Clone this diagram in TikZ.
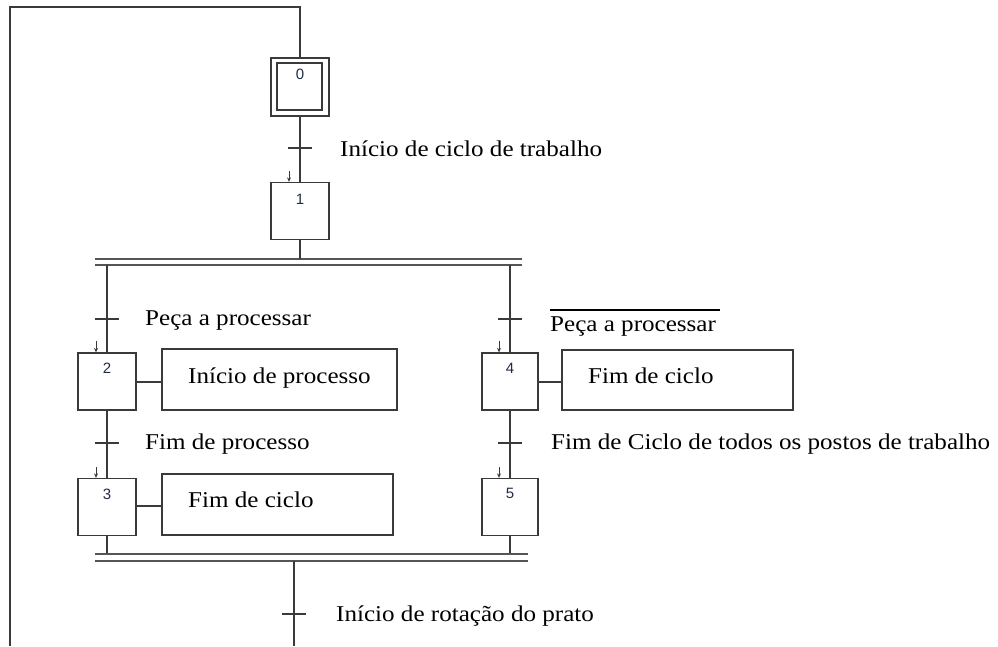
\documentclass[tikz,border=0pt]{standalone}
\usepackage{fontspec}
\setmainfont[FakeStretch=1.11]{Liberation Serif}
\newfontfamily\stepfont{Liberation Sans}
\usetikzlibrary{arrows.meta}
\definecolor{linec}{HTML}{3A3A3A}
\definecolor{barc}{HTML}{555555}
\definecolor{numc}{HTML}{1F2A44}
\begin{document}
\begin{tikzpicture}[x=1pt,y=-1pt,
  ln/.style={draw=linec,line width=1.2pt},
  stepbox/.style={draw=linec,line width=1.3pt,inner sep=0pt,minimum width=58pt,minimum height=57pt},
  actbox/.style={draw=linec,line width=1.1pt,inner sep=0pt,minimum height=61pt},
  num/.style={font=\stepfont\fontsize{15}{15}\selectfont,text=numc,inner sep=0pt},
  lbl/.style={font=\fontsize{22.6}{26}\selectfont,inner sep=0pt,anchor=base west},
  tick/.style={draw=linec,line width=1.2pt},
  bar/.style={draw=barc,line width=1.6pt},
  entry/.style={draw=linec,line width=1pt,-{Stealth[length=4.5pt,width=4pt]}}]
\useasboundingbox (0,0) rectangle (998,646);

% steps
\node[stepbox,minimum height=58pt] (s0) at (300,87) {};
\node[draw=linec,line width=1.2pt,inner sep=0pt,minimum width=45pt,minimum height=47pt] (s0i) at (299.5,86.5) {};
\node[stepbox] (s1) at (300,211) {};
\node[stepbox] (s2) at (107,381.5) {};
\node[stepbox] (s3) at (107,507) {};
\node[stepbox,minimum width=56pt] (s4) at (510,381.5) {};
\node[stepbox,minimum width=56pt] (s5) at (510,507) {};

\node[num] (n0) at ([yshift=-17pt]s0.north) {0};
\node[num] (n1) at ([yshift=-17pt]s1.north) {1};
\node[num] (n2) at ([yshift=-16pt]s2.north) {2};
\node[num] (n3) at ([yshift=-16pt]s3.north) {3};
\node[num] (n4) at ([yshift=-16pt]s4.north) {4};
\node[num] (n5) at ([yshift=-16pt]s5.north) {5};

% actions
\node[actbox,minimum width=235pt] (a2) at (279.5,379.5) {};
\node[actbox,minimum width=231pt] (a3) at (277.5,504.5) {};
\node[actbox,minimum width=231pt,minimum height=60pt] (a4) at (677.5,380) {};
\node[lbl] (ta2) at (188,383) {Início de processo};
\node[lbl] (ta3) at (188,507) {Fim de ciclo};
\node[lbl] (ta4) at (588,383) {Fim de ciclo};
\draw[ln] (s2.east |- 0,382) -- (a2.west |- 0,382);
\draw[ln] (s3.east |- 0,506) -- (a3.west |- 0,506);
\draw[ln] (s4.east |- 0,382) -- (a4.west |- 0,382);

% coordinates
\coordinate (loopB) at (10,646);
\coordinate (loopT) at (10,7);
\coordinate (pa) at (95,259);
\coordinate (pb) at (522,259);
\coordinate (pc) at (95,265);
\coordinate (pd) at (522,265);
\coordinate (qa) at (95,554);
\coordinate (qb) at (528,554);
\coordinate (qc) at (95,561);
\coordinate (qd) at (528,561);
\coordinate (outB) at (294,646);
\coordinate (outT) at (294,561);

% links
\draw[ln] (loopB) -- (loopT) -| (s0.north);
\draw[ln] (s0.south) -- (s1.north);
\draw[bar] (pa) -- (pb);
\draw[bar] (pc) -- (pd);
\draw[ln] (s1.south) -- (s1.south |- pa);
\draw[ln] (s2.north |- pc) -- (s2.north);
\draw[ln] (s4.north |- pc) -- (s4.north);
\draw[ln] (s2.south) -- (s3.north);
\draw[ln] (s4.south) -- (s5.north);
\draw[ln] (s3.south) -- (s3.south |- qa);
\draw[ln] (s5.south) -- (s5.south |- qa);
\draw[bar] (qa) -- (qb);
\draw[bar] (qc) -- (qd);
\draw[ln] (outT) -- (outB);

% transitions
\coordinate (t01) at (300,148);
\coordinate (t2) at (107,319);
\coordinate (t4) at (510,319);
\coordinate (t23) at (107,443);
\coordinate (t45) at (510,443);
\coordinate (tb) at (294,614);
\foreach \t in {t01,t2,t4,t23,t45,tb}
  \draw[tick] ([xshift=-12pt]\t) -- ([xshift=12pt]\t);

\node[lbl] (tr01) at (340,156) {Início de ciclo de trabalho};
\node[lbl] (tr2) at (145,325) {Peça a processar};
\node[lbl] (tr4) at (550,331) {Peça a processar};
\draw[line width=1.3pt] (tr4.west |- 0,310) -- (720,310);
\node[lbl] (tr23) at (145,449) {Fim de processo};
\node[lbl] (tr45) at (551,449) {Fim de Ciclo de todos os postos de trabalho};
\node[lbl] (trb) at (336,621) {Início de rotação do prato};

% entry arrows
\foreach \s in {s1,s2,s3,s4,s5}
  \draw[entry] ([xshift=-11pt,yshift=11pt]\s.north) -- ([xshift=-11pt]\s.north);
\end{tikzpicture}
\end{document}
